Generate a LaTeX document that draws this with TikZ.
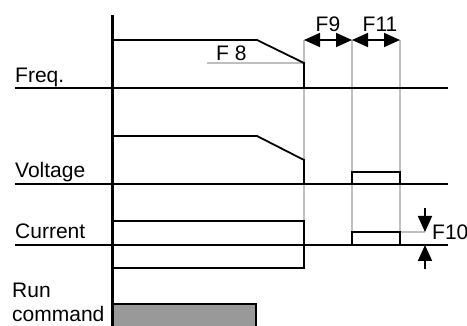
\documentclass[tikz,border=0pt]{standalone}
\usepackage{fontspec}
\setmainfont{Liberation Sans}
\usetikzlibrary{arrows.meta}
\tikzset{
  baseline axis/.style={line width=2.4pt},
  wave/.style={line width=1.8pt},
  guide/.style={black!25, line width=1.2pt},
  dimarrow/.style={line width=1.8pt, {Triangle[length=16pt,width=14pt]}-{Triangle[length=16pt,width=14pt]}},
  onearrow/.style={line width=1.8pt, -{Triangle[length=16pt,width=14pt]}},
  lbl/.style={font=\fontsize{21}{24}\selectfont, inner sep=0pt, anchor=base west},
}
\begin{document}
\begin{tikzpicture}[x=1pt, y=-1pt]
  \useasboundingbox (0,0) rectangle (467,326);
  % Run command block
  \filldraw[fill=black!40, draw=black, line width=1.8pt] (113,304) rectangle (256,332);
  % Guide lines (gray)
  \draw[guide] (207,63) -- (304,63);
  \draw[guide] (304,40) -- (304,268);
  \draw[guide] (352,40) -- (352,232);
  \draw[guide] (400,40) -- (400,232) -- (425,232);
  % Vertical axis
  \draw[line width=3pt] (112,15) -- (112,326);
  % Baselines
  \foreach \y in {88,184,245} {
    \draw[baseline axis] (15,\y) -- (448,\y);
  }
  % Freq. waveform
  \draw[wave] (113,40) -- (257,40) -- (304,63) -- (304,88);
  % Voltage waveform
  \draw[wave] (113,136) -- (257,136) -- (304,160) -- (304,184);
  \draw[wave] (352,184) -- (352,172) -- (400,172) -- (400,184);
  % Current waveform
  \draw[wave] (113,221) -- (304,221) -- (304,268) -- (113,268);
  \draw[wave] (352,245) -- (352,232) -- (400,232) -- (400,245);
  % Labels
  \node[lbl] (freq) at (15,83) {Freq.};
  \node[lbl] (volt) at (15,178) {Voltage};
  \node[lbl] (curr) at (15,239) {Current};
  \node[lbl] (run) at (12,298) {Run};
  \node[lbl] (cmd) at (12,322) {command};
  \node[lbl] (f8) at (216,61) {F 8};
  \node[lbl, anchor=base] (f9) at (328,32) {F9};
  \node[lbl, anchor=base] (f11) at (380,32) {F11};
  \node[lbl] (f10) at (432,240) {F10};
  % Dimension arrows
  \coordinate (t1) at (304,40);
  \coordinate (t2) at (352,40);
  \coordinate (t3) at (400,40);
  \draw[dimarrow] (t1) -- (t2);
  \draw[dimarrow] (t2) -- (t3);
  \coordinate (d1) at (425,208);
  \coordinate (d2) at (425,232);
  \coordinate (u1) at (425,269);
  \coordinate (u2) at (425,245);
  \draw[onearrow] (d1) -- (d2);
  \draw[onearrow] (u1) -- (u2);
\end{tikzpicture}
\end{document}
